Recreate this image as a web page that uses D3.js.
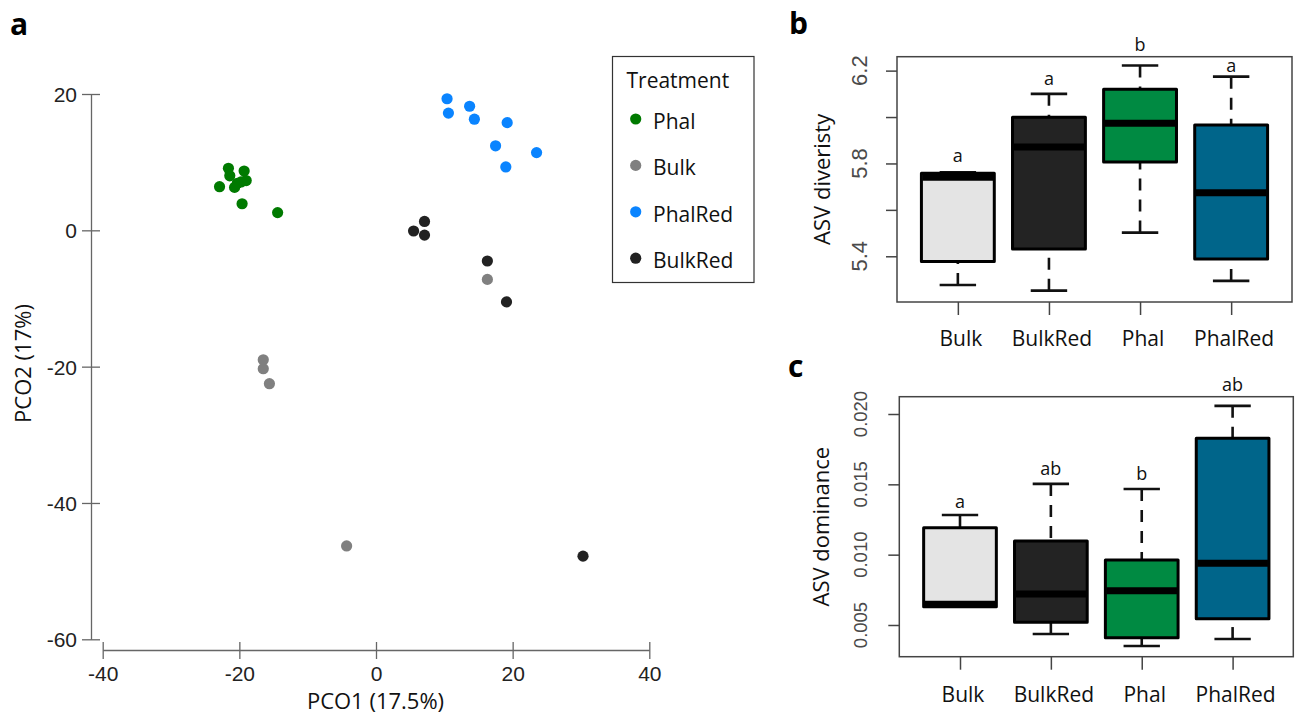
<!DOCTYPE html>
<html>
<head>
<meta charset="utf-8">
<script src="https://cdn.jsdelivr.net/npm/d3@7"></script>
<style>
  html, body { margin: 0; padding: 0; background: #fff; }
  svg { display: block; }
</style>
</head>
<body>
<script>
// ---------------- DATA ----------------
// Panel a: PCoA scores
const treatments = ["Phal", "Bulk", "PhalRed", "BulkRed"];
const treatmentColors = ["#007a00", "#808080", "#0a84ff", "#222222"];
const phalPoints = [[-21.6, 9.1], [-21.4, 8.0], [-19.3, 8.7], [-22.9, 6.4], [-20.7, 6.3],
                    [-19.75, 7.1], [-19.0, 7.3], [-20.3, 6.9], [-19.6, 3.9], [-14.4, 2.6]];
const bulkPoints = [[-16.5, -19.0], [-16.5, -20.3], [-15.6, -22.5], [-4.3, -46.3], [16.3, -7.2]];
const phalRedPoints = [[10.4, 19.3], [10.6, 17.2], [13.7, 18.2], [14.4, 16.3], [19.2, 15.8],
                       [17.5, 12.4], [23.5, 11.4], [19.0, 9.3]];
const bulkRedPoints = [[7.1, 1.3], [5.5, -0.1], [7.1, -0.7], [16.3, -4.5], [19.1, -10.5], [30.3, -47.8]];
const pcoTicksX = [-40, -20, 0, 20, 40];
const pcoTicksY = [-60, -40, -20, 0, 20];

// Panels b & c: box plots
const boxCategories = ["Bulk", "BulkRed", "Phal", "PhalRed"];
const boxFills = ["#e4e4e4", "#232323", "#008a42", "#00658a"];

const divWhiskerLow  = [5.276, 5.252, 5.502, 5.294];
const divQ1          = [5.377, 5.431, 5.806, 5.388];
const divMedian      = [5.741, 5.871, 5.973, 5.674];
const divQ3          = [5.758, 5.999, 6.120, 5.966];
const divWhiskerHigh = [5.762, 6.100, 6.222, 6.174];
const divLetters     = ["a", "a", "b", "a"];
const divLetterAt    = [5.834, 6.164, 6.314, 6.222];
const divTicks       = [5.4, 5.6, 5.8, 6.0, 6.2];
const divTickLabels  = ["5.4", "", "5.8", "", "6.2"];

const domWhiskerLow  = [0.0063, 0.00436, 0.00351, 0.0040];
const domQ1          = [0.0063, 0.00519, 0.0041, 0.00545];
const domMedian      = [0.00647, 0.0072, 0.00744, 0.00939];
const domQ3          = [0.01192, 0.01097, 0.00962, 0.01828];
const domWhiskerHigh = [0.01282, 0.01503, 0.01467, 0.02058];
const domLetters     = ["a", "ab", "b", "ab"];
const domLetterAt    = [0.01377, 0.01615, 0.01574, 0.02207];
const domTicks       = [0.005, 0.010, 0.015, 0.020];
const domTickLabels  = ["0.005", "0.010", "0.015", "0.020"];

// ---------------- DRAW ----------------
const W = 1298, H = 714;
const svg = d3.select("body").append("svg").attr("width", W).attr("height", H);
svg.append("rect").attr("width", W).attr("height", H).attr("fill", "#fff");

const textFont = "'Open Sans', 'Segoe UI', sans-serif";
const numFont = "'Liberation Sans', Arial, sans-serif";

// panel letters
[["a", 10, 35], ["b", 789, 34], ["c", 788, 377]].forEach(([t, x, y]) => {
  svg.append("text").attr("x", x).attr("y", y).text(t)
    .attr("font-family", textFont).attr("font-weight", 700).attr("font-size", 30).attr("fill", "#000");
});

// ---- Panel a ----
const xA = d3.scaleLinear().domain([-40, 40]).range([102.7, 649.3]);
const yA = d3.scaleLinear().domain([-60, 20]).range([639.3, 94]);
const axisColor = "#666";
const plainFmt = d => String(d);

const gy = svg.append("g").attr("transform", "translate(91,0)")
  .call(d3.axisLeft(yA).tickValues(pcoTicksY).tickFormat(plainFmt).tickSize(9).tickSizeOuter(0).tickPadding(5));
gy.select(".domain").attr("stroke", axisColor).attr("stroke-width", 1.3);
gy.selectAll(".tick line").attr("x1", 9).attr("stroke", axisColor).attr("stroke-width", 1.3);
gy.selectAll(".tick text").attr("x", -14).attr("dy", "0.36em")
  .attr("font-family", numFont).attr("font-size", 21).attr("fill", "#222");

const gx = svg.append("g").attr("transform", "translate(0,650)")
  .call(d3.axisBottom(xA).tickValues(pcoTicksX).tickFormat(plainFmt).tickSize(9).tickSizeOuter(0));
gx.select(".domain").attr("stroke", axisColor).attr("stroke-width", 1.3);
gx.selectAll(".tick line").attr("y1", -8).attr("y2", 9).attr("stroke", axisColor).attr("stroke-width", 1.3);
gx.selectAll(".tick text").attr("y", 30.5).attr("dy", 0)
  .attr("font-family", numFont).attr("font-size", 21).attr("fill", "#222");

svg.append("text").attr("transform", "translate(31,363.5) rotate(-90)")
  .attr("text-anchor", "middle").attr("font-family", textFont).attr("font-size", 22).attr("fill", "#111")
  .text("PCO2 (17%)");
svg.append("text").attr("x", 375.5).attr("y", 709)
  .attr("text-anchor", "middle").attr("font-family", textFont).attr("font-size", 22).attr("fill", "#111")
  .text("PCO1 (17.5%)");

const groupPoints = [phalPoints, bulkPoints, phalRedPoints, bulkRedPoints];
groupPoints.forEach((pts, i) => {
  svg.append("g").selectAll("circle").data(pts).join("circle")
    .attr("cx", d => xA(d[0])).attr("cy", d => yA(d[1])).attr("r", 5.6)
    .attr("fill", treatmentColors[i]);
});

// legend
const leg = svg.append("g");
leg.append("rect").attr("x", 612.5).attr("y", 56.5).attr("width", 141.5).attr("height", 226)
  .attr("fill", "#fff").attr("stroke", "#333").attr("stroke-width", 1.2);
leg.append("text").attr("x", 626.5).attr("y", 88).text("Treatment")
  .attr("font-family", textFont).attr("font-size", 21).attr("fill", "#111");
treatments.forEach((t, i) => {
  const cy = 119 + i * 46.4;
  leg.append("circle").attr("cx", 635.7).attr("cy", cy).attr("r", 5.6).attr("fill", treatmentColors[i]);
  leg.append("text").attr("x", 653).attr("y", cy + 10).text(t)
    .attr("font-family", textFont).attr("font-size", 21).attr("fill", "#111");
});

// ---- Box plot helper ----
function boxPanel(cfg) {
  const g = svg.append("g");
  const x = d3.scalePoint().domain(boxCategories).range([cfg.left, cfg.right]).padding(0.668);
  const y = d3.scaleLinear().domain(cfg.domain).range([cfg.bottom, cfg.top]);
  const bw = x.step() * 0.8;
  const capW = bw * 0.5;

  g.append("rect").attr("x", cfg.left).attr("y", cfg.top)
    .attr("width", cfg.right - cfg.left).attr("height", cfg.bottom - cfg.top)
    .attr("fill", "none").attr("stroke", "#444").attr("stroke-width", 1.5);

  const ya = g.append("g").attr("transform", `translate(${cfg.left},0)`)
    .call(d3.axisLeft(y).tickValues(cfg.ticks).tickSize(11).tickSizeOuter(0).tickFormat(""));
  ya.select(".domain").remove();
  ya.selectAll(".tick line").attr("stroke", "#444").attr("stroke-width", 1.5);
  g.selectAll("text.ytl").data(cfg.ticks).join("text").attr("class", "ytl")
    .attr("transform", (d) => `translate(${cfg.tickLabelX},${y(d)}) rotate(-90)`)
    .attr("text-anchor", "middle").attr("font-family", numFont).attr("font-size", cfg.tickFont)
    .attr("fill", "#4a4a4a").text((d, i) => cfg.tickLabels[i]);

  const xa = g.append("g").attr("transform", `translate(0,${cfg.bottom})`)
    .call(d3.axisBottom(x).tickSize(13).tickSizeOuter(0).tickFormat(""));
  xa.select(".domain").remove();
  xa.selectAll(".tick line").attr("stroke", "#444").attr("stroke-width", 1.5);
  g.selectAll("text.xtl").data(boxCategories).join("text").attr("class", "xtl")
    .attr("x", d => x(d) + 3).attr("y", cfg.catBaseline).attr("text-anchor", "middle")
    .attr("font-family", textFont).attr("font-size", 21).attr("fill", "#111").text(d => d);

  g.append("text").attr("transform", `translate(${cfg.labelX},${(cfg.top + cfg.bottom) / 2}) rotate(-90)`)
    .attr("text-anchor", "middle").attr("font-family", textFont).attr("font-size", 22).attr("fill", "#111")
    .text(cfg.label);

  boxCategories.forEach((c, i) => {
    const cx = x(c);
    [[cfg.wLow[i], cfg.q1[i]], [cfg.wHigh[i], cfg.q3[i]]].forEach(([a, b]) => {
      g.append("line").attr("x1", cx).attr("x2", cx).attr("y1", y(a)).attr("y2", y(b))
        .attr("stroke", "#111").attr("stroke-width", 2.6).attr("stroke-dasharray", "12,9");
      g.append("line").attr("x1", cx - capW / 2).attr("x2", cx + capW / 2).attr("y1", y(a)).attr("y2", y(a))
        .attr("stroke", "#111").attr("stroke-width", 2.6);
    });
    g.append("rect").attr("x", cx - bw / 2).attr("y", y(cfg.q3[i]))
      .attr("width", bw).attr("height", y(cfg.q1[i]) - y(cfg.q3[i]))
      .attr("fill", boxFills[i]).attr("stroke", "#000").attr("stroke-width", 3).attr("stroke-linejoin", "round");
    g.append("line").attr("x1", cx - bw / 2 + 1).attr("x2", cx + bw / 2 - 1)
      .attr("y1", y(cfg.med[i])).attr("y2", y(cfg.med[i]))
      .attr("stroke", "#000").attr("stroke-width", 7);
    g.append("text").attr("x", cx).attr("y", y(cfg.letterAt[i])).attr("dy", "0.36em")
      .attr("text-anchor", "middle").attr("font-family", textFont).attr("font-size", 18).attr("fill", "#111")
      .text(cfg.letters[i]);
  });
}

boxPanel({
  left: 897, right: 1292, top: 56.7, bottom: 302,
  domain: [5.203, 6.260], ticks: divTicks, tickLabels: divTickLabels,
  tickLabelX: 866.7, tickFont: 22, catBaseline: 346, labelX: 830, label: "ASV diveristy",
  wLow: divWhiskerLow, q1: divQ1, med: divMedian, q3: divQ3, wHigh: divWhiskerHigh,
  letters: divLetters, letterAt: divLetterAt
});

boxPanel({
  left: 899.3, right: 1293.3, top: 396.7, bottom: 656.7,
  domain: [0.002746, 0.02123], ticks: domTicks, tickLabels: domTickLabels,
  tickLabelX: 866.6, tickFont: 18.5, catBaseline: 702, labelX: 829, label: "ASV dominance",
  wLow: domWhiskerLow, q1: domQ1, med: domMedian, q3: domQ3, wHigh: domWhiskerHigh,
  letters: domLetters, letterAt: domLetterAt
});
</script>
</body>
</html>
